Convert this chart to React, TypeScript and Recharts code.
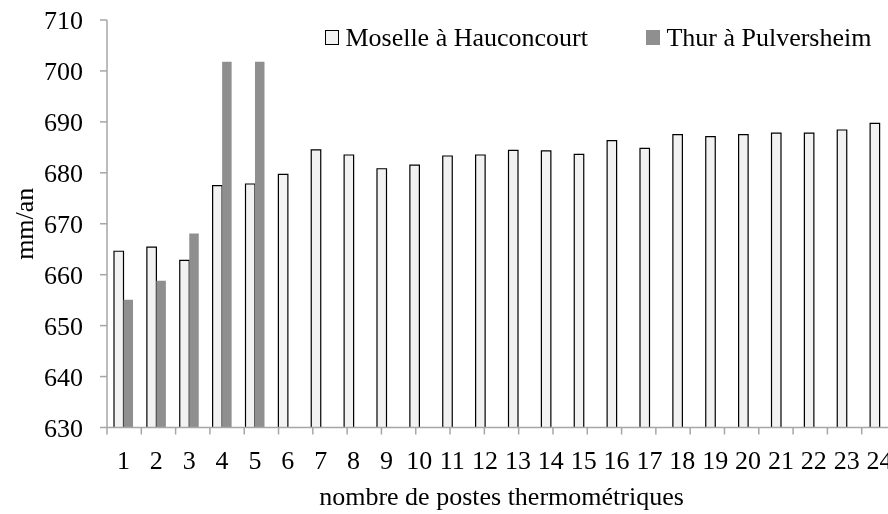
import React from 'react';
import { BarChart, Bar, XAxis, YAxis, Legend } from 'recharts';

const CATEGORIES = ['1', '2', '3', '4', '5', '6', '7', '8', '9', '10', '11', '12', '13', '14', '15', '16', '17', '18', '19', '20', '21', '22', '23', '24'];
const MOSELLE = [664.6, 665.4, 662.8, 677.5, 677.8, 679.7, 684.5, 683.5, 680.8, 681.5, 683.3, 683.5, 684.4, 684.3, 683.6, 686.3, 684.8, 687.5, 687.1, 687.5, 687.8, 687.8, 688.4, 689.7];
const THUR = [655.1, 658.8, 668.1, 701.8, 701.8, null, null, null, null, null, null, null, null, null, null, null, null, null, null, null, null, null, null, null];
const Y_TICKS = [630, 640, 650, 660, 670, 680, 690, 700, 710];
const BOUNDARY_TICKS = [0, 1, 2, 3, 4, 5, 6, 7, 8, 9, 10, 11, 12, 13, 14, 15, 16, 17, 18, 19, 20, 21, 22, 23, 24];
const MOSELLE_NAME = 'Moselle à Hauconcourt';
const THUR_NAME = 'Thur à Pulversheim';
const X_TITLE = 'nombre de postes thermométriques';
const Y_TITLE = 'mm/an';

const data = CATEGORIES.map((c, i) => ({ cat: c, moselle: MOSELLE[i], thur: THUR[i] }));

const FONT = '"Liberation Serif", "Times New Roman", serif';
const AXIS = '#a6a6a6';
const FS = 26;

const renderXLabel = (props: any) => {
  const vb = props.viewBox || {};
  return (
    <text x={vb.x + vb.width / 2} y={vb.y + 77.8} textAnchor="middle" fontFamily={FONT} fontSize={FS} fill="#000">
      {X_TITLE}
    </text>
  );
};

const renderYLabel = (props: any) => {
  const vb = props.viewBox || {};
  const cx = vb.x + 25;
  const cy = vb.y + vb.height / 2;
  return (
    <text x={cx} y={cy} transform={`rotate(-90, ${cx}, ${cy})`} textAnchor="middle" fontFamily={FONT} fontSize={FS} fill="#000">
      {Y_TITLE}
    </text>
  );
};

const renderLegend = (props: any) => {
  const items = props.payload || [];
  return (
    <div style={{ display: 'flex', alignItems: 'center', fontFamily: FONT, fontSize: FS, lineHeight: '30px', color: '#000', whiteSpace: 'nowrap' }}>
      {items.map((it: any, i: number) => (
        <div key={String(it.dataKey)} style={{ display: 'flex', alignItems: 'center', marginRight: i === 0 ? 58 : 0 }}>
          <span
            style={{
              display: 'inline-block',
              boxSizing: 'border-box',
              width: 14.4,
              height: 14.4,
              background: it.color,
              border: it.dataKey === 'moselle' ? '1.3px solid #000' : 'none',
            }}
          />
          <span style={{ marginLeft: 6 }}>{it.value}</span>
        </div>
      ))}
    </div>
  );
};

export default function App() {
  return (
    <div style={{ position: 'fixed', left: 8, top: 8, width: 880, height: 506, overflow: 'hidden' }}>
      <BarChart
        width={900}
        height={506}
        data={data}
        margin={{ top: 12, right: 12, bottom: 86.5, left: 0 }}
        barGap={0}
        barSize={9.5}
      >
        <XAxis
          xAxisId={0}
          type="number"
          domain={[0, 24]}
          ticks={BOUNDARY_TICKS}
          allowDataOverflow
          interval={0}
          height={0.001}
          axisLine={false}
          tickLine={{ stroke: AXIS, strokeWidth: 1.5 }}
          tickSize={7}
          tick={() => <g />}
        />
        <XAxis
          xAxisId="cat"
          dataKey="cat"
          type="category"
          interval={0}
          height={0.001}
          tickLine={false}
          tickSize={7}
          tickMargin={15.6}
          axisLine={{ stroke: AXIS, strokeWidth: 1.5 }}
          tick={{ fill: '#000', fontSize: FS, fontFamily: FONT }}
          label={renderXLabel}
        />
        <YAxis
          domain={[630, 710]}
          ticks={Y_TICKS}
          allowDataOverflow
          interval={0}
          width={99}
          tickSize={7}
          tickMargin={17}
          axisLine={{ stroke: AXIS, strokeWidth: 1.5 }}
          tickLine={{ stroke: AXIS, strokeWidth: 1.5 }}
          tick={{ fill: '#000', fontSize: FS, fontFamily: FONT }}
          label={renderYLabel}
        />
        <Legend
          layout="horizontal"
          verticalAlign="middle"
          align="center"
          wrapperStyle={{ top: 14.5, left: 317, width: 560 }}
          content={renderLegend}
        />
        <Bar xAxisId="cat" dataKey="moselle" name={MOSELLE_NAME} fill="#f2f2f2" stroke="#000" strokeWidth={1.2} isAnimationActive={false} />
        <Bar xAxisId="cat" dataKey="thur" name={THUR_NAME} fill="#8f8f8f" isAnimationActive={false} />
      </BarChart>
    </div>
  );
}
